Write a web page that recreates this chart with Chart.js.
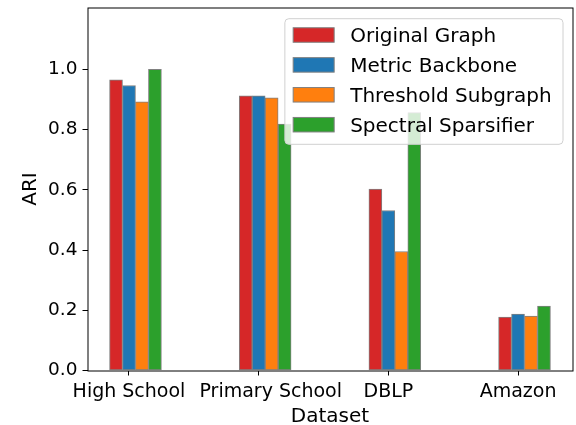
<!DOCTYPE html>
<html>
<head>
<meta charset="utf-8">
<script src="https://cdn.jsdelivr.net/npm/chart.js@4/dist/chart.umd.min.js"></script>
<style>
  html, body { margin: 0; padding: 0; background: #ffffff; }
  #wrap { width: 576px; height: 425px; }
</style>
</head>
<body>
<div id="wrap"><canvas id="chart" width="576" height="425"></canvas></div>
<script>
// Datasets compared (leading spaces keep the second label clear of the first)
const categories = ['High School', '    Primary School', 'DBLP', 'Amazon'];

// ARI per dataset, one array per graph variant
const originalGraph      = [0.965, 0.912, 0.602, 0.177];
const metricBackbone     = [0.946, 0.912, 0.531, 0.187];
const thresholdSubgraph  = [0.892, 0.905, 0.395, 0.181];
const spectralSparsifier = [1.000, 0.818, 0.856, 0.214];

const seriesNames = ['Original Graph', 'Metric Backbone', 'Threshold Subgraph', 'Spectral Sparsifier'];
const yTickLabels = ['0.0', '0.2', '0.4', '0.6', '0.8', '1.0'];

const seriesValues = [originalGraph, metricBackbone, thresholdSubgraph, spectralSparsifier];
const seriesColors = ['#d62728', '#1f77b4', '#ff7f0e', '#2ca02c'];

// Bars sit side by side: each one is BAR_W wide, the second of the group on the tick
const BAR_W = 0.1;
const datasets = seriesValues.map((vals, s) => ({
  label: seriesNames[s],
  data: vals.map((v, i) => ({ x: i + (s - 1) * BAR_W, y: v })),
  backgroundColor: seriesColors[s],
  borderColor: '#808080',
  borderWidth: 1,
  borderSkipped: false,
  grouped: false,
  categoryPercentage: 1.0,
  barPercentage: 1.0
}));

const FONT = 'DejaVu Sans';

// Axes frame and in-plot legend box
const framePlugin = {
  id: 'frameAndLegend',
  afterDatasetsDraw(chart) {
    const ctx = chart.ctx;
    const a = chart.chartArea;
    ctx.save();
    ctx.strokeStyle = '#000000';
    ctx.lineWidth = 1;
    ctx.strokeRect(Math.round(a.left), Math.round(a.top), Math.round(a.right - a.left), Math.round(a.bottom - a.top));

    // legend
    const fs = 20;
    ctx.font = fs + 'px "' + FONT + '"';
    const maxW = Math.max(...seriesNames.map(n => ctx.measureText(n).width));
    const pad = 8.3, handleLen = 41, handleH = 14.5, gap = 16, rowPitch = 29.9;
    const boxW = pad + handleLen + gap + maxW + pad + 3;
    const boxH = 125.6;
    const bx = a.right - 9.5 - boxW;
    const by = a.top + 11.2;
    ctx.beginPath();
    ctx.roundRect(bx, by, boxW, boxH, 4);
    ctx.fillStyle = 'rgba(255,255,255,0.8)';
    ctx.fill();
    ctx.strokeStyle = '#d0d0d0';
    ctx.lineWidth = 1;
    ctx.stroke();
    seriesNames.forEach((name, k) => {
      const cy = by + 16.3 + k * rowPitch;
      ctx.fillStyle = seriesColors[k];
      ctx.fillRect(bx + pad, cy - handleH / 2, handleLen, handleH);
      ctx.strokeStyle = '#808080';
      ctx.strokeRect(bx + pad, cy - handleH / 2, handleLen, handleH);
      ctx.fillStyle = '#000000';
      ctx.textBaseline = 'alphabetic';
      ctx.textAlign = 'left';
      ctx.fillText(name, bx + pad + handleLen + gap, cy + handleH / 2);
    });
    ctx.restore();
  }
};

new Chart(document.getElementById('chart'), {
  type: 'bar',
  data: { datasets },
  options: {
    responsive: false,
    devicePixelRatio: 1,
    animation: false,
    layout: { padding: { top: 7.5, right: 3.5, left: 0, bottom: 0 } },
    plugins: { legend: { display: false }, tooltip: { enabled: false } },
    scales: {
      x: {
        type: 'linear',
        offset: false,
        min: -0.32,
        max: 3.42,
        afterBuildTicks: s => { s.ticks = categories.map((c, i) => ({ value: i })); },
        afterFit: s => { s.height = 54.5; s.paddingLeft = 0; s.paddingRight = 0; },
        ticks: {
          color: '#000000',
          font: { family: FONT, size: 19 },
          padding: 5,
          maxRotation: 0,
          autoSkip: false,
          callback: v => categories[Math.round(v)]
        },
        grid: { drawOnChartArea: false, drawTicks: true, tickLength: 5, color: '#000000', offset: false },
        border: { display: false },
        title: {
          display: true,
          text: 'Dataset',
          color: '#000000',
          font: { family: FONT, size: 20, lineHeight: 0.9 },
          padding: { top: 0, bottom: -0.5 }
        }
      },
      y: {
        min: 0,
        max: 1.205,
        afterBuildTicks: s => { s.ticks = yTickLabels.map(t => ({ value: parseFloat(t) })); },
        afterFit: s => { s.width = 87.5; s.paddingTop = 0; s.paddingBottom = 0; },
        ticks: {
          color: '#000000',
          font: { family: FONT, size: 18.5 },
          padding: 5,
          callback: (v, i) => yTickLabels[i]
        },
        grid: { drawOnChartArea: false, drawTicks: true, tickLength: 5, color: '#000000' },
        border: { display: false },
        title: {
          display: true,
          text: 'ARI',
          color: '#000000',
          font: { family: FONT, size: 20 },
          padding: { top: 19, bottom: 0 }
        }
      }
    }
  },
  plugins: [framePlugin]
});
</script>
</body>
</html>
